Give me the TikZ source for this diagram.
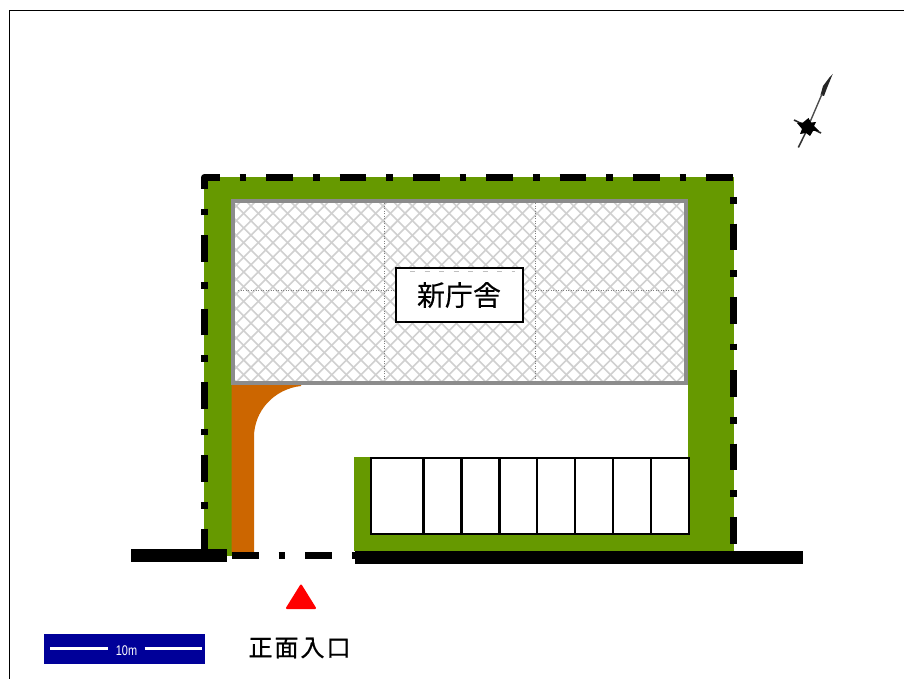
\documentclass[tikz,border=0pt]{standalone}
\usepackage{fontspec}
\newfontfamily\cjk[FakeBold=0.25]{Noto Sans CJK JP}
\newfontfamily\cjkb[FakeBold=0.6]{Noto Sans CJK JP}
\setmainfont{Liberation Sans}
\definecolor{sitegreen}{HTML}{669900}
\definecolor{roadorange}{HTML}{CC6600}
\definecolor{wallgray}{HTML}{8C8C8C}
\definecolor{hatchgray}{HTML}{D0D0D0}
\definecolor{barblue}{HTML}{000099}
\tikzset{
  boundary/.style={line width=6.67pt,dash pattern=on 26.67pt off 20pt on 6.67pt off 20pt},
  stall/.style={draw=black,line width=2.3pt},
  gridline/.style={gray,line width=.7pt,dash pattern=on 1pt off 1.5pt},
  hatchline/.style={hatchgray,line width=1.6pt},
}
\begin{document}
\begin{tikzpicture}[x=1pt,y=-1pt]
\useasboundingbox (0,0) rectangle (904,679);
\fill[white] (0,0) rectangle (904,679);
\draw[black,line width=1.2pt] (9.7,679) -- (9.7,10.8) -- (904,10.8);
% site
\fill[sitegreen] (204,177) rectangle (734,551);
\fill[sitegreen] (204,177) rectangle (232,556);
\fill[white] (232,384) rectangle (688,551);
\fill[white] (232,551) rectangle (355,560);
\fill[sitegreen] (354,457) rectangle (371,551);
\fill[sitegreen] (354,535) rectangle (688,551);
% orange road
\fill[roadorange] (231.5,384) -- (301,384) -- (301,386) .. controls (274,389) and (254,411) .. (254,437) -- (254,552) -- (231.5,552) -- cycle;
% building
\fill[white] (233,201) rectangle (686,383);
\begin{scope}
\clip (233,201) rectangle (686,383);
\foreach \i in {-15,...,45} {
  \draw[hatchline] (233+13+14.67*\i,201) -- ++(190,190);
  \draw[hatchline] (233+8.33+14.67*\i,201) -- ++(-190,190);
}
\end{scope}
\draw[gridline] (384,203) -- (384,381);
\draw[gridline] (535,203) -- (535,381);
\draw[gridline] (238,290) -- (680,290);
\draw[wallgray,line width=4pt] (233,201) rectangle (686,383);
% boundary
\draw[boundary,dash phase=6.3pt,line join=round] (204.3,549) -- (204.3,177.3) -- (733.5,177.3) -- (733.5,543.7);
\draw[boundary] (232,555.7) -- (355,555.7);
% roads
\fill[black] (131,549) rectangle (227,562);
\fill[black] (355,551) rectangle (803,564);
% parking
\draw[stall,fill=white] (370.7,458.3) rectangle (689,534.3);
\foreach \x in {423.5,461.5,499.5,537.2,575,612.8,650.8} \draw[stall] (\x,458.3) -- (\x,534.3);
% label
\node[draw=black,fill=white,line width=2pt,minimum width=127pt,minimum height=54pt,inner sep=0pt,font=\cjk\fontsize{28}{28}\selectfont] (bldg) at (459,295) {新庁舎};
\draw[black!25,line width=.7pt,dash pattern=on 5pt off 9.5pt] (410,271.5) -- (515,271.5);
% entrance arrow
\fill[red,draw=red,line width=2pt,line join=round] (301,585.5) -- (315,608) -- (287,608) -- cycle;
% scale
\fill[barblue] (44,634.3) rectangle (205,663.7);
\draw[white,line width=2.6pt] (50,648.4) -- (107.5,648.4);
\draw[white,line width=2.6pt] (144.5,648.4) -- (202,648.4);
\node[white,inner sep=0pt,xscale=.78,transform shape,font=\fontsize{14}{14}\selectfont] (ten) at (126.5,651) {10m};
\node[inner sep=0pt,anchor=center,font=\cjkb\fontsize{24}{24}\selectfont] (gate) at (299.5,648) {正\hspace{2pt}面\hspace{2pt}入\hspace{2pt}口};
% compass
\fill[black!85] (832.7,74) -- (827,88) -- (824,96) -- (820.5,95) -- (823,86) -- (829,78) -- cycle;
\draw[black!70,line width=1.4pt] (822,94) -- (810,122);
\draw[black!80,line width=1.5pt] (806,132) -- (798.3,147.5);
\draw[black!85,line width=1.6pt] (794,120) -- (821,133);
\fill[black] (808.5,118) -- (811,122.5) -- (816,122) -- (814,126) -- (819,131) -- (813,131) -- (810,136) -- (806,133) -- (800,134) -- (802,129) -- (797,123) -- (803,122.5) -- cycle;
\end{tikzpicture}
\end{document}
